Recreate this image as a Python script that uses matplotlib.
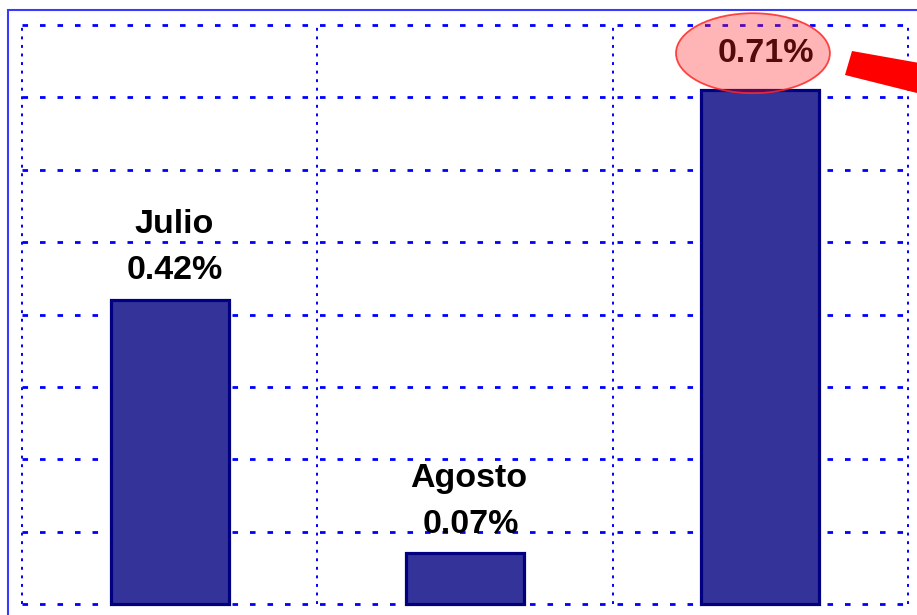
import matplotlib
matplotlib.use("Agg")
import matplotlib.pyplot as plt
import numpy as np
from matplotlib.patches import Rectangle, Polygon, Ellipse

# values
months = ["Julio", "Agosto", ""]
values = [0.42, 0.07, 0.71]
y_grid = np.arange(0, 0.81, 0.1)
x_grid = [-0.5, 0.5, 1.5, 2.5]

plt.rcParams['font.family'] = ['Liberation Sans', 'DejaVu Sans']

W, H = 917, 615
fig = plt.figure(figsize=(W / 100, H / 100), dpi=100)
ax = fig.add_axes([22 / W, 11 / H, 886 / W, 579 / H])

# outer blue frame (only top and left edges are inside the crop)
fig.patches.append(Rectangle((8 / W, -0.1), 1.2, (H - 10) / H + 0.1,
                             transform=fig.transFigure, fill=False,
                             edgecolor='#3a3aff', lw=1.5))

# dotted grid
for y in y_grid:
    ax.axhline(y, color='blue', lw=2, linestyle=(0, (2, 4.3)),
               zorder=1, clip_on=False)
for x in x_grid:
    ax.axvline(x, color='blue', lw=1.4, linestyle=(0, (1.5, 2.9)),
               zorder=1, clip_on=False)

x = np.arange(len(values))
ax.bar(x, values, width=0.4, color='#333399', edgecolor='#000080',
       linewidth=2.3, zorder=2, clip_on=False)

# labels above the bars
for i, (m, v) in enumerate(zip(months, values)):
    off = 20 if m == "" else 15
    ax.annotate(f"{v:.2f}%", (i, v), xytext=(4, off), textcoords='offset points',
                ha='center', va='baseline', fontsize=24.5, fontweight='bold',
                color='black', zorder=3, annotation_clip=False)
    if m:
        ax.annotate(m, (i, v), xytext=(3, off + 33), textcoords='offset points',
                    ha='center', va='baseline', fontsize=24.5, fontweight='bold',
                    color='black', zorder=3, annotation_clip=False)

# pink highlight around the last value
ax.add_patch(Ellipse((1.975, 0.761), 0.521, 0.1105,
                     facecolor=(1, 0.12, 0.12, 0.33),
                     edgecolor=(1, 0.15, 0.15, 0.85), lw=1.3,
                     zorder=5, clip_on=False))

# red pointer coming in from the right
pts = [(852, 51), (845, 75), (925, 95), (925, 64)]
fig.patches.append(Polygon([(px / W, 1 - py / H) for px, py in pts],
                           closed=True, transform=fig.transFigure,
                           facecolor='red', edgecolor='none'))

ax.set_xlim(-0.5, 2.5)
ax.set_ylim(0, 0.8)
ax.set_xticks([])
ax.set_yticks([])
for s in ax.spines.values():
    s.set_visible(False)

fig.savefig("out.png", dpi=100)
